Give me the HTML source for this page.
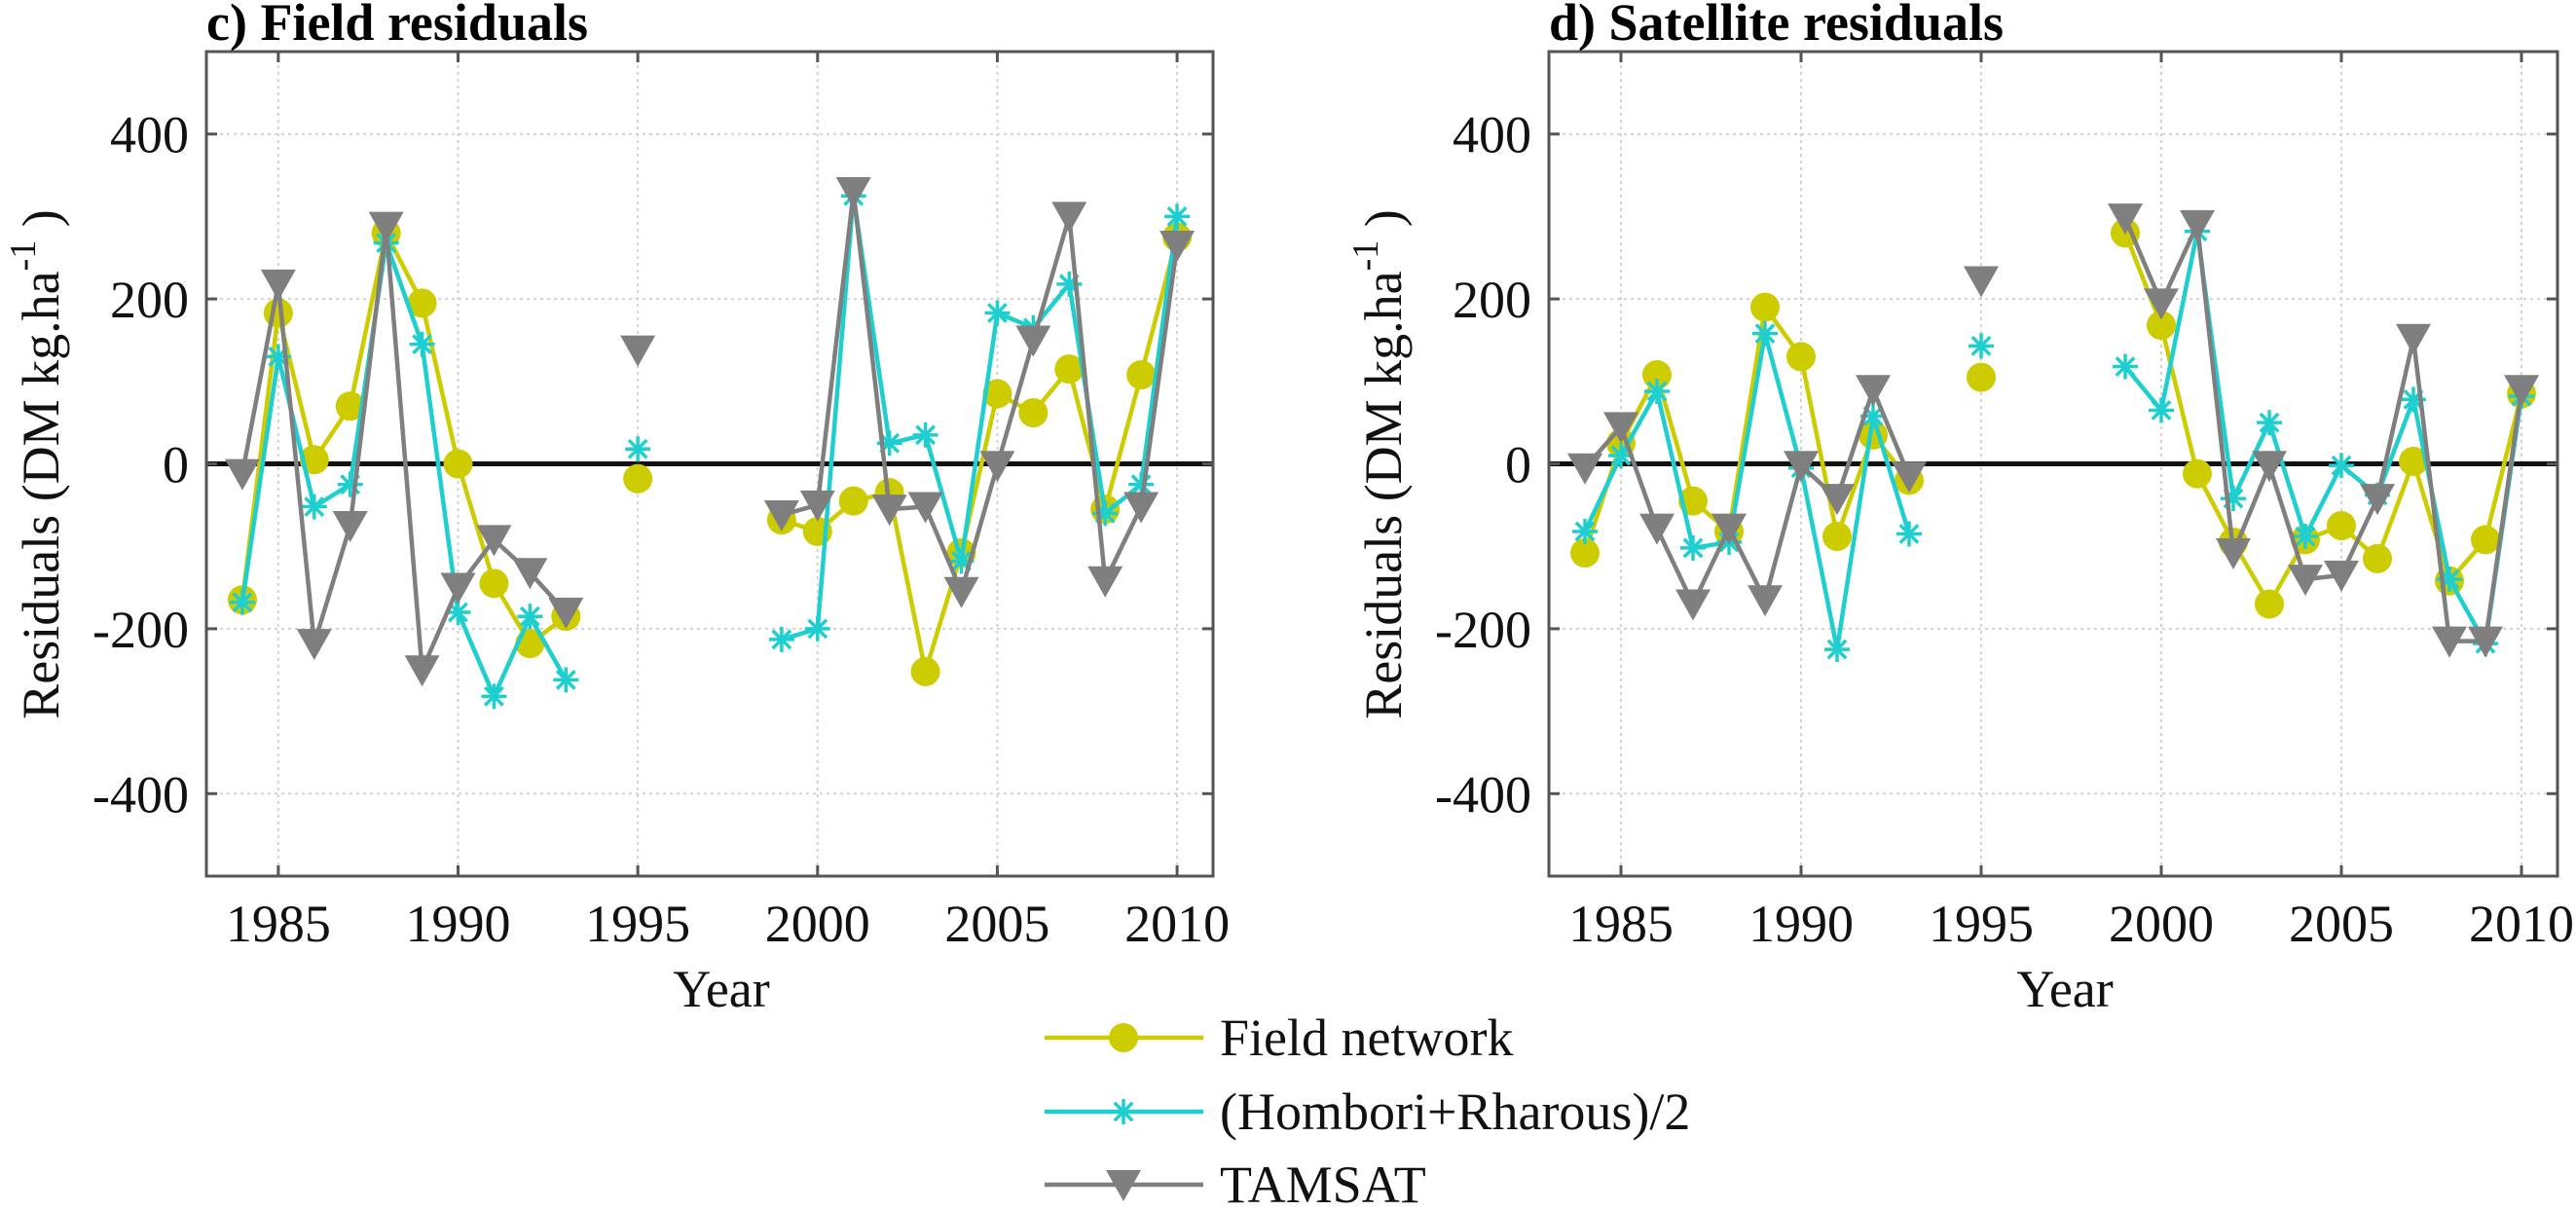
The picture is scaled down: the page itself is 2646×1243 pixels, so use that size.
<!DOCTYPE html>
<html><head><meta charset="utf-8">
<style>
html,body{margin:0;padding:0;background:#fff;}
svg{display:block;font-family:"Liberation Serif",serif;}
</style></head>
<body>
<svg id="chart" width="2646" height="1243" viewBox="0 0 2646 1243" xmlns="http://www.w3.org/2000/svg"></svg>
<script>
const years = [1984,1985,1986,1987,1988,1989,1990,1991,1992,1993,1994,1995,1996,1997,1998,1999,2000,2001,2002,2003,2004,2005,2006,2007,2008,2009,2010];
const xTicks = [1985,1990,1995,2000,2005,2010];
const yTicks = [-400,-200,0,200,400];
const yTickLabels = ["-400","-200","0","200","400"];
// Field residuals panel
const fieldField   = [-165,183,5,70,280,195,0,-145,-218,-185,null,-18,null,null,null,-68,-82,-45,-35,-252,-108,85,62,115,-55,108,275];
const fieldHombori = [-168,130,-52,-25,268,145,-180,-282,-185,-262,null,18,null,null,null,-213,-200,325,25,35,-118,183,165,218,-60,-25,300];
const fieldTamsat  = [-12,218,-218,-75,288,-250,-150,-92,-132,-180,null,138,null,null,null,-62,-50,330,-55,-52,-155,-2,150,300,-142,-52,265];
// Satellite residuals panel
const satField   = [-108,25,108,-45,-82,190,130,-88,35,-20,null,105,null,null,null,280,168,-12,-95,-170,-92,-75,-115,3,-142,-92,85];
const satHombori = [-82,10,88,-102,-95,158,-5,-225,58,-85,null,143,null,null,null,118,65,282,-42,50,-88,-2,-38,78,-140,-218,82];
const satTamsat  = [-5,45,-78,-170,-78,-165,-2,-42,90,-15,null,222,null,null,null,298,195,290,-108,-2,-140,-135,-42,152,-215,-215,90];
const seriesNames = ["Field network","(Hombori+Rharous)/2","TAMSAT"];

const NS="http://www.w3.org/2000/svg";
const svg=document.getElementById('chart');
const COL={field:"#cccc00",hom:"#1fcfcf",tam:"#7f7f7f"};
function mk(tag,attrs,parent){const e=document.createElementNS(NS,tag);for(const k in attrs)e.setAttribute(k,attrs[k]);(parent||svg).appendChild(e);return e;}

const TOP=53,BOT=900,YMIN=-500,YMAX=500,XMIN=1983,XMAX=2011;
function yScale(v){return BOT-(v-YMIN)/(YMAX-YMIN)*(BOT-TOP);}

function marker(g,type,x,y,color){
  if(type==='circle'){const c=mk('circle',{cx:x,cy:y,r:15,fill:color},g);}
  else if(type==='star'){const s=mk('g',{stroke:color,'stroke-width':3.5},g);
    const r=13,d=r*0.707;
    mk('line',{x1:x-r,y1:y,x2:x+r,y2:y},s);mk('line',{x1:x,y1:y-r,x2:x,y2:y+r},s);
    mk('line',{x1:x-d,y1:y-d,x2:x+d,y2:y+d},s);mk('line',{x1:x-d,y1:y+d,x2:x+d,y2:y-d},s);}
  else {const t=mk('polygon',{points:`${x-18},${y-15} ${x+18},${y-15} ${x},${y+17}`,fill:color},g);}
}

function panel(L,R,title,series,key){
  const xScale=v=>L+(v-XMIN)/(XMAX-XMIN)*(R-L);
  const g=mk('g',{});
  
  
  const grid=mk('g',{stroke:'#d2d2d2','stroke-width':2,'stroke-dasharray':'3,4'},g);
  
  
  xTicks.forEach(t=>mk('line',{x1:xScale(t),x2:xScale(t),y1:TOP,y2:BOT},grid));
  yTicks.forEach(t=>{if(t!==0)mk('line',{x1:L,x2:R,y1:yScale(t),y2:yScale(t)},grid);});
  const z=mk('line',{x1:L,x2:R,y1:yScale(0),y2:yScale(0),stroke:'#111','stroke-width':5},g);
  
  
  const types=['circle','star','tri'],cols=[COL.field,COL.hom,COL.tam];
  series.forEach((arr,si)=>{
    const sg=mk('g',{},g);
    
    
    let seg=[];
    const flush=()=>{if(seg.length>1)mk('polyline',{points:seg.join(' '),fill:'none',stroke:cols[si],'stroke-width':4.5,'stroke-linejoin':'round'},sg);seg=[];};
    arr.forEach((v,i)=>{if(v===null){flush();}else seg.push(xScale(years[i])+','+yScale(v));});
    flush();
    arr.forEach((v,i)=>{if(v!==null)marker(sg,types[si],xScale(years[i]),yScale(v),cols[si]);});
  });
  const box=mk('rect',{x:L,y:TOP,width:R-L,height:BOT-TOP,fill:'none',stroke:'#555','stroke-width':3},g);
  
  
  const tk=mk('g',{stroke:'#555','stroke-width':3},g);
  
  
  xTicks.forEach(t=>{const x=xScale(t);mk('line',{x1:x,x2:x,y1:BOT,y2:BOT-11},tk);mk('line',{x1:x,x2:x,y1:TOP,y2:TOP+11},tk);});
  yTicks.forEach(t=>{const y=yScale(t);mk('line',{x1:L,x2:L+11,y1:y,y2:y},tk);mk('line',{x1:R,x2:R-11,y1:y,y2:y},tk);});
  xTicks.forEach(t=>{const e=mk('text',{x:xScale(t),y:967,'font-size':54,'text-anchor':'middle',fill:'#111'},g);e.textContent=t;});
  yTicks.forEach((t,i)=>{const e=mk('text',{x:L-18,y:yScale(t)+19,'font-size':54,'text-anchor':'end',fill:'#111'},g);e.textContent=yTickLabels[i];});
  const xt=mk('text',{x:(L+R)/2+12,y:1034,'font-size':54,'text-anchor':'middle',fill:'#111'},g);
  xt.textContent='Year';
  
  
  const yt=mk('text',{transform:`translate(${L-152},477) rotate(-90)`,'font-size':54,'text-anchor':'middle',fill:'#111'},g);
  
  
  yt.innerHTML='Residuals (DM kg.ha<tspan dy="-24" font-size="38">-1</tspan><tspan dy="24"> )</tspan>';
  const tt=mk('text',{x:L,y:41,'font-size':54,'font-weight':'bold',fill:'#000'},g);
  tt.textContent=title;
  
  
}
panel(212,1246,'c) Field residuals',[fieldField,fieldHombori,fieldTamsat],'field-residuals');
panel(1591,2627,'d) Satellite residuals',[satField,satHombori,satTamsat],'satellite-residuals');

const lg=mk('g',{});


const lys=[1066,1142,1217],ltypes=['circle','star','tri'],lcols=[COL.field,COL.hom,COL.tam];
seriesNames.forEach((n,i)=>{
  const eg=mk('g',{},lg);
  
  
  mk('line',{x1:1073,x2:1236,y1:lys[i],y2:lys[i],stroke:lcols[i],'stroke-width':4.5},eg);
  marker(eg,ltypes[i],1154,lys[i],lcols[i]);
  const t=mk('text',{x:1253,y:lys[i]+18,'font-size':54,fill:'#111'},eg);
  t.textContent=n;
});
</script>
</body></html>
